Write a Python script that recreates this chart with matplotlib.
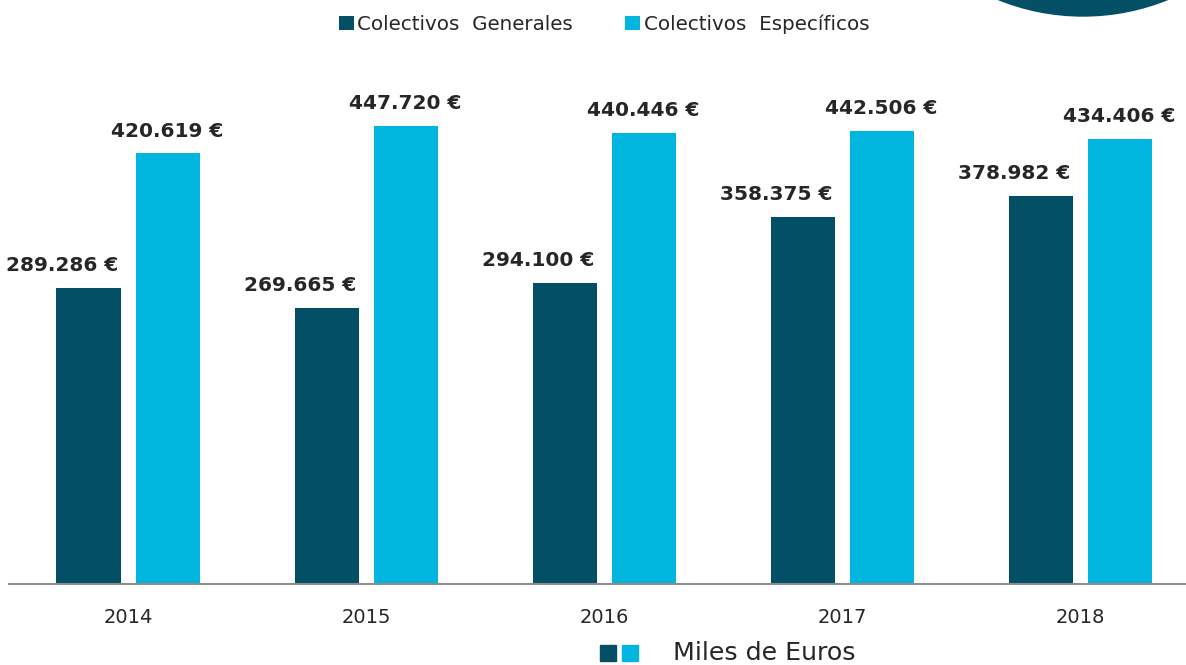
import matplotlib
matplotlib.use('Agg')
import numpy as np
import matplotlib.pyplot as plt
from matplotlib.patches import Ellipse, Rectangle

years = ['2014', '2015', '2016', '2017', '2018']
generales = [289286, 269665, 294100, 358375, 378982]
especificos = [420619, 447720, 440446, 442506, 434406]
series_names = ['Colectivos  Generales', 'Colectivos  Específicos']
unit_label = 'Miles de Euros'

DARK = '#034F66'
LIGHT = '#00B5DE'
TXT = '#262626'

plt.rcParams['font.family'] = ['DejaVu Sans']

def fmt(v):
    return f'{v:,.0f} €'.replace(',', '.')

fig = plt.figure(figsize=(11.86, 6.65), dpi=100)
ax = fig.add_axes([9 / 1186, 81 / 665, 1 - 9 / 1186, 1 - 81 / 665])

x = np.arange(len(years))
w = 0.269
off = 0.166
b1 = ax.bar(x - off, generales, w, color=DARK, label=series_names[0])
b2 = ax.bar(x + off, especificos, w, color=LIGHT, label=series_names[1])

for xi, v in zip(x, generales):
    ax.annotate(fmt(v), (xi - off, v), xytext=(-19, 16), textcoords='offset points',
                ha='center', va='center', fontsize=14.5, fontweight='bold', color=TXT)
for xi, v in zip(x, especificos):
    ax.annotate(fmt(v), (xi + off, v), xytext=(0, 16), textcoords='offset points',
                ha='center', va='center', fontsize=14.5, fontweight='bold', color=TXT)

ax.set_xlim(-0.5, 4.445)
ax.set_ylim(0, 570300)
ax.set_xticks(x)
ax.set_xticklabels(years, fontsize=14, color=TXT)
ax.tick_params(axis='x', length=0, pad=17)
ax.set_yticks([])
for s in ['top', 'left', 'right']:
    ax.spines[s].set_visible(False)
ax.spines['bottom'].set_color('#8c8c8c')
ax.spines['bottom'].set_linewidth(1.5)

fig.legend(handles=[b1, b2], loc='center', bbox_to_anchor=(604 / 1186, 1 - 24 / 665),
           ncol=2, frameon=False, fontsize=14.3, handlelength=0.75, handleheight=0.75,
           handletextpad=0.2, columnspacing=2.6, labelcolor=TXT)

# decorative circle at top right
fig.patches.append(Ellipse((1083 / 1186, 1 + 210 / 665), 2 * 226 / 1186, 2 * 226 / 665,
                           transform=fig.transFigure, color=DARK, zorder=0))

# unit note at bottom
fig.patches.append(Rectangle((600 / 1186, 1 - 661 / 665), 16 / 1186, 16 / 665,
                             transform=fig.transFigure, color=DARK))
fig.patches.append(Rectangle((622 / 1186, 1 - 661 / 665), 16 / 1186, 16 / 665,
                             transform=fig.transFigure, color=LIGHT))
fig.text(673 / 1186, 1 - 653 / 665, unit_label, fontsize=18.2, color=TXT, va='center', ha='left')

fig.savefig('out.png')
